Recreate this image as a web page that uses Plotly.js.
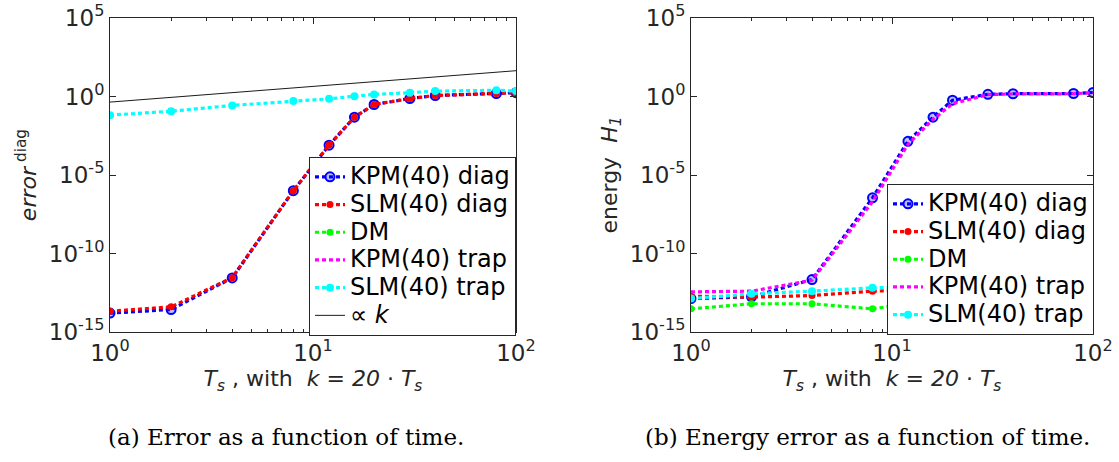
<!DOCTYPE html>
<html><head><meta charset="utf-8">
<script src="https://cdn.plot.ly/plotly-3.0.1.min.js"></script>
<style>html,body{margin:0;padding:0;background:#fff;} #chart{width:1119px;height:462px;}</style>
</head><body><div id="chart"></div>
<script>
// ---- data ----
const Ts = [1, 2, 4, 8, 12, 16, 20, 30, 40, 80, 100];

// panel (a): error
const errKPMdiag = [1.6e-14, 2.7e-14, 2.8e-12, 1.0e-6, 7.9e-4, 0.048, 0.31, 0.74, 1.15, 1.55, 1.74];
const errSLMdiag = [2.1e-14, 4.0e-14, 2.9e-12, 1.0e-6, 8.0e-4, 0.048, 0.31, 0.74, 1.15, 1.55, 1.74];
const errDM = [null, null, null, null, null, null, null, null, null, null, null];      // not visible in panel (a)
const errKPMtrap = [null, null, null, null, null, null, null, null, null, null, null]; // not visible in panel (a)
const errSLMtrap = [0.065, 0.115, 0.27, 0.51, 0.71, 1.05, 1.35, 1.74, 2.2, 2.5, 2.2];
const propX = [1, 100];
const propY = [0.44, 44];

// panel (b): energy
const enKPMdiag = [1.35e-13, 1.74e-13, 2.2e-12, 3.5e-7, 1.4e-3, 0.048, 0.58, 1.38, 1.5, 1.55, 1.8];
const enSLMdiag = [1.9e-13, 1.66e-13, 2.1e-13, 4.0e-13, 4.5e-13, 5.0e-13, 5.6e-13, 6.3e-13, 7.1e-13, 8.9e-13, 1.07e-12];
const enDM = [3.0e-14, 6.3e-14, 6.3e-14, 3.0e-14, 6.3e-14, 8.0e-14, 1.0e-13, 1.1e-13, 1.26e-13, 1.6e-13, 2.1e-13];
const enKPMtrap = [3.6e-13, 4.0e-13, 2.0e-12, 2.0e-7, 8.9e-4, 0.035, 0.35, 1.32, 1.45, 1.5, 1.74];
const enSLMtrap = [1.35e-13, 2.7e-13, 4.0e-13, 6.5e-13, 7.1e-13, 8.0e-13, 8.9e-13, 1.0e-12, 1.1e-12, 1.26e-12, 1.5e-12];

const names = ['KPM(40) diag', 'SLM(40) diag', 'DM', 'KPM(40) trap', 'SLM(40) trap', '\u221D <i>k</i>'];
const xTickVals = [1, 10, 100];
const xTickText = ['10<sup>0</sup>', '10<sup>1</sup>', '10<sup>2</sup>'];
const yTickVals = [1e-15, 1e-10, 1e-5, 1, 1e5];
const yTickText = ['10<sup>-15</sup>', '10<sup>-10</sup>', '10<sup>-5</sup>', '10<sup>0</sup>', '10<sup>5</sup>'];
const minorX = [2,3,4,5,6,7,8,9,20,30,40,50,60,70,80,90];

// ---- styles ----
const FONT = 'DejaVu Sans, Arial, sans-serif';
const AX = '#262626';
const DASH = '4px,3px';
const styles = [
  {color: '#0000FF', marker: {symbol: 'circle', size: 9, color: 'rgba(0,0,255,0.25)', line: {color: '#0000FF', width: 2}}, mode: 'lines+markers'},
  {color: '#FF0000', marker: {symbol: 'circle', size: 7, color: '#FF0000'}, mode: 'lines+markers'},
  {color: '#00FF00', marker: {symbol: 'circle', size: 7, color: '#00FF00'}, mode: 'lines+markers'},
  {color: '#FF00FF', marker: {size: 0}, mode: 'lines'},
  {color: '#00FFFF', marker: {symbol: 'circle', size: 8, color: '#00FFFF'}, mode: 'lines+markers'}
];

function lbl(s) { return '<span style="font-size:24px">' + s + '</span>'; }

function mk(x, y, i, xa, ya, lg) {
  const s = styles[i];
  return {x: x, y: y, name: lbl(names[i]), type: 'scatter', mode: s.mode,
    line: {color: s.color, width: 3.2, dash: DASH}, marker: s.marker,
    xaxis: xa, yaxis: ya, legend: lg, cliponaxis: true, connectgaps: false};
}

const traces = [
  mk(Ts, errKPMdiag, 0, 'x', 'y', 'legend'),
  mk(Ts, errSLMdiag, 1, 'x', 'y', 'legend'),
  mk(Ts, errDM, 2, 'x', 'y', 'legend'),
  mk(Ts, errKPMtrap, 3, 'x', 'y', 'legend'),
  mk(Ts, errSLMtrap, 4, 'x', 'y', 'legend'),
  {x: propX, y: propY, name: lbl(names[5]), type: 'scatter', mode: 'lines',
   line: {color: '#000000', width: 0.9}, xaxis: 'x', yaxis: 'y', legend: 'legend'},
  mk(Ts, enKPMdiag, 0, 'x2', 'y2', 'legend2'),
  mk(Ts, enSLMdiag, 1, 'x2', 'y2', 'legend2'),
  mk(Ts, enDM, 2, 'x2', 'y2', 'legend2'),
  mk(Ts, enKPMtrap, 3, 'x2', 'y2', 'legend2'),
  mk(Ts, enSLMtrap, 4, 'x2', 'y2', 'legend2')
];

function xaxis(dom, anchor) {
  return {domain: dom, anchor: anchor, type: 'log', range: [0, 2],
    tickmode: 'array', tickvals: xTickVals, ticktext: xTickText,
    ticks: 'inside', ticklen: 6, tickcolor: AX, tickwidth: 1,
    minor: {tickmode: 'array', tickvals: minorX, ticks: 'inside', ticklen: 3, tickcolor: AX, tickwidth: 1, showgrid: false},
    showline: true, linecolor: AX, linewidth: 1, mirror: 'ticks',
    showgrid: false, zeroline: false,
    tickfont: {family: FONT, size: 23, color: AX},
    title: {text: '<i>T</i><sub><i>s</i></sub> , with  <i>k</i> = <i>20</i> \u00B7 <i>T</i><sub><i>s</i></sub>',
            font: {family: FONT, size: 22, color: AX}, standoff: 6}};
}
function yaxis(dom, anchor, title) {
  return {domain: dom, anchor: anchor, type: 'log', range: [-15, 5],
    tickmode: 'array', tickvals: yTickVals, ticktext: yTickText,
    ticks: 'inside', ticklen: 6, tickcolor: AX, tickwidth: 1,
    showline: true, linecolor: AX, linewidth: 1, mirror: 'ticks',
    showgrid: false, zeroline: false,
    tickfont: {family: FONT, size: 23, color: AX},
    title: {text: title, font: {family: FONT, size: 22, color: AX}, standoff: 6}};
}
const yDom = [1 - 332/462, 1 - 18/462];
const legendBase = {xanchor: 'left', yanchor: 'top', bgcolor: '#FFFFFF', bordercolor: AX, borderwidth: 1,
  font: {family: FONT, size: 19, color: '#000000'}, tracegroupgap: 0, itemwidth: 30, itemclick: false};

const layout = {
  width: 1119, height: 462, paper_bgcolor: '#FFFFFF', plot_bgcolor: '#FFFFFF',
  margin: {l: 0, r: 0, t: 0, b: 0},
  font: {family: FONT, color: AX},
  showlegend: true,
  xaxis: xaxis([110/1119, 516/1119], 'y'),
  yaxis: yaxis(yDom, 'x', '<i>error</i><sup> diag</sup>'),
  xaxis2: xaxis([691/1119, 1093/1119], 'y2'),
  yaxis2: yaxis(yDom, 'x2', 'energy  <i>H</i><sub><i>1</i></sub>'),
  legend: Object.assign({}, legendBase, {x: 309/1119, y: 1 - 157/462}),
  legend2: Object.assign({}, legendBase, {x: 887/1119, y: 1 - 184/462}),
  annotations: [
    {text: '(a) Error as a function of time.', xref: 'paper', yref: 'paper', x: 286/1119, y: 1 - 437/462,
     xanchor: 'center', yanchor: 'middle', showarrow: false, font: {family: 'DejaVu Serif, Liberation Serif, serif', size: 23, color: '#000'}},
    {text: '(b) Energy error as a function of time.', xref: 'paper', yref: 'paper', x: 867/1119, y: 1 - 437/462,
     xanchor: 'center', yanchor: 'middle', showarrow: false, font: {family: 'DejaVu Serif, Liberation Serif, serif', size: 23, color: '#000'}}
  ]
};

Plotly.newPlot('chart', traces, layout, {staticPlot: true, displayModeBar: false});
</script></body></html>
